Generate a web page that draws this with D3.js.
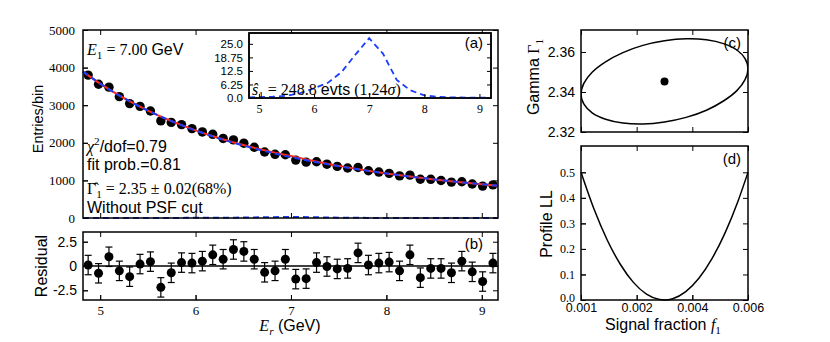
<!DOCTYPE html>
<html><head><meta charset="utf-8">
<script src="https://cdn.jsdelivr.net/npm/d3@7/dist/d3.min.js"></script>
<style>body{margin:0;background:#fff}svg{display:block}text{white-space:pre}</style>
</head><body>
<svg id="c" width="830" height="342"></svg>
<script>
// ---------------- data ----------------
const binCenters = [4.874,4.983,5.092,5.201,5.309,5.418,5.527,5.636,5.745,5.853,5.962,6.071,6.180,6.289,6.397,6.506,6.615,6.724,6.833,6.941,7.050,7.159,7.268,7.377,7.485,7.594,7.703,7.812,7.921,8.029,8.138,8.247,8.356,8.465,8.573,8.682,8.791,8.900,9.009,9.117];
const entries = [3800,3557,3480,3228,3042,2970,2847,2583,2542,2484,2378,2289,2226,2116,2078,1990,1881,1754,1694,1681,1540,1486,1497,1431,1373,1329,1343,1256,1222,1188,1120,1140,1030,1029,998,955,964,904,848,880];
const residuals = [0.1,-0.75,0.95,-0.5,-1.1,0.2,0.45,-2.2,-0.7,0.35,0.3,0.5,1.15,0.7,1.7,1.5,0.7,-0.65,-0.5,0.7,-1.35,-1.3,0.35,-0.05,-0.3,-0.25,1.35,0.1,0.3,0.4,-0.5,1.15,-1.2,-0.25,-0.25,-0.7,0.5,-0.6,-1.6,0.3];
const residualErr = 1.0;
const modelE = [4.82,5.0,5.25,5.5,5.75,6.0,6.25,6.5,6.75,7.0,7.25,7.5,7.75,8.0,8.25,8.5,8.75,9.0,9.17];
const fitModel = [3895,3573,3187,2857,2575,2332,2122,1941,1785,1648,1512,1386,1280,1185,1101,1027,959,898,859];
const bkgModel = [3895,3573,3186,2856,2573,2328,2115,1929,1765,1620,1492,1378,1276,1184,1101,1027,959,898,859];
const sigModel = [0.3,0.4,0.6,1.0,2.3,4.5,7.0,12.0,20.0,27.6,20.5,8.3,3.5,1.2,0.5,0.3,0.2,0.2,0.2];
const energyTicks = [5,6,7,8,9];
const entriesTicks = [0,1000,2000,3000,4000,5000];
const residTicks = [-2.5,0,2.5];
const residTickLabels = ["-2.5","0","2.5"];
const insetTicks = [0,6.25,12.5,18.75,25];
const insetTickLabels = ["0.0","6.25","12.5","18.75","25.0"];
// contour (c) and profile (d)
const contourF = [0.00570,0.00561,0.00536,0.00495,0.00443,0.00381,0.00315,0.00249,0.00188,0.00135,0.00094,0.00069,0.00060,0.00069,0.00094,0.00135,0.00188,0.00249,0.00315,0.00381,0.00443,0.00495,0.00536,0.00561];
const contourG = [2.3517,2.3567,2.3610,2.3642,2.3661,2.3666,2.3656,2.3633,2.3597,2.3551,2.3499,2.3444,2.3389,2.3339,2.3296,2.3264,2.3245,2.3240,2.3250,2.3273,2.3309,2.3355,2.3407,2.3462];
const bestF = 0.00315, bestG = 2.3453;
const profF = [0.0006,0.0010,0.0014,0.0018,0.0022,0.0026,0.0030,0.00315,0.0034,0.0038,0.0042,0.0046,0.0050,0.0054,0.0057];
const profLL = [0.5,0.355,0.235,0.140,0.069,0.023,0.0017,0,0.0048,0.0325,0.085,0.162,0.263,0.389,0.5];
const fracTicks = [0.0006,0.0023,0.0040,0.0057];
const fracTickLabels = ["0.001","0.002","0.004","0.006"];
const gammaTicks = [2.32,2.34,2.36];
const llTicks = [0,0.1,0.2,0.3,0.4,0.5];

// ---------------- setup ----------------
const SANS = "'Liberation Sans', Arial, Helvetica, sans-serif";
const SERIF = "'Liberation Serif', 'Times New Roman', serif";
const RED = "#ff2a1a", BLUE = "#1a3cff";
const svg = d3.select("#c");

const A = {x0:83,x1:498,y0:30,y1:218};
const B = {x0:83,x1:498,y0:232,y1:300};
const I = {x0:249,x1:491,y0:33,y1:98};
const C = {x0:581,x1:748,y0:30,y1:132};
const D = {x0:581,x1:748,y0:146,y1:300};

const xA = d3.scaleLinear([4.82,9.17],[A.x0,A.x1]);
const yA = d3.scaleLinear([0,5000],[A.y1,A.y0]);
const yB = d3.scaleLinear([-3.5,3.5],[B.y1,B.y0]);
const xI = d3.scaleLinear([4.82,9.21],[I.x0,I.x1]);
const yI = d3.scaleLinear([0,30],[I.y1,I.y0]);
const xC = d3.scaleLinear([0.0006,0.0057],[C.x0,C.x1]);
const yC = d3.scaleLinear([2.32,2.371],[C.y1,C.y0]);
const yD = d3.scaleLinear([0,0.603],[D.y1,D.y0]);

function axisG(axis, tx, ty, font, size){
  const g = svg.append("g").attr("transform",`translate(${tx},${ty})`).call(axis);
  g.select(".domain").remove();
  g.selectAll(".tick line").attr("stroke","#000").attr("stroke-width",1);
  g.selectAll(".tick text").attr("font-family",font).attr("font-size",size).attr("fill","#000");
  return g;
}
function ticks4(p, xs, ys, xv, yv){
  axisG(d3.axisBottom(xs).tickValues(xv).tickFormat("").tickSizeInner(-5).tickSizeOuter(0),0,p.y1,SANS,10);
  axisG(d3.axisTop(xs).tickValues(xv).tickFormat("").tickSizeInner(-5).tickSizeOuter(0),0,p.y0,SANS,10);
  axisG(d3.axisLeft(ys).tickValues(yv).tickFormat("").tickSizeInner(-5).tickSizeOuter(0),p.x0,0,SANS,10);
  axisG(d3.axisRight(ys).tickValues(yv).tickFormat("").tickSizeInner(-5).tickSizeOuter(0),p.x1,0,SANS,10);
}
function frame(p, fill){
  svg.append("rect").attr("x",p.x0).attr("y",p.y0).attr("width",p.x1-p.x0).attr("height",p.y1-p.y0)
    .attr("fill",fill||"none").attr("stroke","#000").attr("stroke-width",1.5);
}
function rich(x, y, parts, opt={}){
  const size = opt.size||16;
  const t = svg.append("text").attr("x",x).attr("y",y).attr("text-anchor",opt.anchor||"start")
    .attr("font-size",size).attr("fill","#000");
  if(opt.rotate) t.attr("transform",`rotate(${opt.rotate},${x},${y})`);
  let cur = 0;
  parts.forEach(p=>{
    const shift = p.sub ? size*0.28 : p.sup ? -size*0.42 : 0;
    const ts = t.append("tspan").text(p.t).attr("font-family",p.serif?SERIF:SANS)
      .attr("font-size",(p.sub||p.sup)?size*0.7:size);
    if(p.italic) ts.attr("font-style","italic");
    if(shift!==cur){ ts.attr("dy",shift-cur); cur = shift; }
  });
  return t;
}

// ---------------- panel (a) ----------------
svg.append("g").selectAll("circle").data(binCenters).join("circle")
  .attr("cx",(d)=>xA(d)).attr("cy",(d,i)=>yA(entries[i])).attr("r",4.7).attr("fill","#000");
const lineA = d3.line().x((d,i)=>xA(modelE[i])).curve(d3.curveMonotoneX);
svg.append("path").attr("d",lineA.y(d=>yA(d))(fitModel)).attr("fill","none").attr("stroke",RED).attr("stroke-width",2);
svg.append("path").attr("d",lineA.y(d=>yA(d))(bkgModel)).attr("fill","none").attr("stroke",BLUE).attr("stroke-width",2).attr("stroke-dasharray","6,4");
svg.append("path").attr("d",lineA.y(d=>yA(d))(sigModel)).attr("fill","none").attr("stroke",BLUE).attr("stroke-width",2).attr("stroke-dasharray","6,4");

ticks4(A, xA, yA, energyTicks, entriesTicks);
axisG(d3.axisLeft(yA).tickValues(entriesTicks).tickFormat(d3.format("d")).tickSizeInner(-5).tickSizeOuter(0).tickPadding(8),A.x0,0,SERIF,13);
frame(A);

// inset
frame(I, "#fff");
svg.append("path").attr("d",d3.line().x((d,i)=>xI(modelE[i])).y(d=>yI(d))(sigModel))
  .attr("fill","none").attr("stroke",BLUE).attr("stroke-width",1.8).attr("stroke-dasharray","6,4");
axisG(d3.axisLeft(yI).tickValues(insetTicks).tickFormat((d,i)=>insetTickLabels[i]).tickSizeInner(-4).tickSizeOuter(0).tickPadding(6),I.x0,0,SANS,11.5);
axisG(d3.axisRight(yI).tickValues(insetTicks).tickFormat("").tickSizeInner(-4).tickSizeOuter(0),I.x1,0,SANS,10);
axisG(d3.axisBottom(xI).tickValues(energyTicks).tickFormat(d3.format("d")).tickSizeInner(-4).tickSizeOuter(0).tickPadding(6),0,I.y1,SERIF,12);
frame(I);
rich(252, 95, [{t:"s\u0302",serif:1,italic:1},{t:"1",serif:1,sub:1},{t:" = 248.8 ",serif:1},{t:"evts"},{t:" (1.24",serif:1},{t:"σ",serif:1,italic:1},{t:")",serif:1}],{size:16});
rich(483, 48, [{t:"(a)"}],{size:15,anchor:"end"});

rich(87, 55, [{t:"E",serif:1,italic:1},{t:"1",serif:1,sub:1},{t:" = 7.00 ",serif:1},{t:"GeV"}],{size:16});
rich(87, 152, [{t:"χ",serif:1,italic:1},{t:"2",serif:1,sup:1},{t:"/dof=0.79"}],{size:16});
rich(87, 170, [{t:"fit prob.=0.81"}],{size:16});
rich(87, 194, [{t:"Γ\u0302",serif:1},{t:"1",serif:1,sub:1},{t:" = 2.35 ± 0.02(68%)",serif:1}],{size:16});
rich(87, 213, [{t:"Without PSF cut"}],{size:16});

rich(43, 119, [{t:"Entries/bin"}],{size:14.5,anchor:"middle",rotate:-90});

// ---------------- panel (b) ----------------
svg.append("line").attr("x1",B.x0).attr("x2",B.x1).attr("y1",yB(0)).attr("y2",yB(0)).attr("stroke","#000").attr("stroke-width",1.5);
const eb = svg.append("g").attr("stroke","#000").attr("stroke-width",1.2);
binCenters.forEach((e,i)=>{
  const x = xA(e), lo = yB(residuals[i]-residualErr), hi = yB(residuals[i]+residualErr);
  eb.append("line").attr("x1",x).attr("x2",x).attr("y1",lo).attr("y2",hi);
  eb.append("line").attr("x1",x-3.5).attr("x2",x+3.5).attr("y1",lo).attr("y2",lo);
  eb.append("line").attr("x1",x-3.5).attr("x2",x+3.5).attr("y1",hi).attr("y2",hi);
});
svg.append("g").selectAll("circle").data(binCenters).join("circle")
  .attr("cx",d=>xA(d)).attr("cy",(d,i)=>yB(residuals[i])).attr("r",4.5).attr("fill","#000");
ticks4(B, xA, yB, energyTicks, residTicks);
axisG(d3.axisLeft(yB).tickValues(residTicks).tickFormat((d,i)=>residTickLabels[i]).tickSizeInner(-5).tickSizeOuter(0).tickPadding(6),B.x0,0,SANS,14);
axisG(d3.axisBottom(xA).tickValues(energyTicks).tickFormat(d3.format("d")).tickSizeInner(-5).tickSizeOuter(0).tickPadding(5.5),0,B.y1,SERIF,13);
frame(B);
rich(483, 249, [{t:"(b)"}],{size:15,anchor:"end"});
rich(46.5, 266, [{t:"Residual"}],{size:16,anchor:"middle",rotate:-90});
rich(290, 331, [{t:"E",serif:1,italic:1},{t:"r",serif:1,italic:1,sub:1},{t:" (GeV)"}],{size:16,anchor:"middle"});

// ---------------- panel (c) ----------------
svg.append("clipPath").attr("id","clipC").append("rect").attr("x",C.x0).attr("y",C.y0).attr("width",C.x1-C.x0).attr("height",C.y1-C.y0);
svg.append("path").attr("clip-path","url(#clipC)")
  .attr("d",d3.line().x((d,i)=>xC(contourF[i])).y(d=>yC(d)).curve(d3.curveCatmullRomClosed.alpha(0.5))(contourG))
  .attr("fill","none").attr("stroke","#000").attr("stroke-width",1.5);
svg.append("circle").attr("cx",xC(bestF)).attr("cy",yC(bestG)).attr("r",4).attr("fill","#000");
ticks4(C, xC, yC, fracTicks, gammaTicks);
axisG(d3.axisLeft(yC).tickValues(gammaTicks).tickFormat(d3.format(".2f")).tickSizeInner(-5).tickSizeOuter(0).tickPadding(6),C.x0,0,SANS,14);
frame(C);
rich(741, 48, [{t:"(c)"}],{size:15,anchor:"end"});
rich(539, 77, [{t:"Gamma "},{t:"Γ",serif:1},{t:"1",serif:1,sub:1}],{size:16,anchor:"middle",rotate:-90});

// ---------------- panel (d) ----------------
svg.append("path").attr("d",d3.line().x((d,i)=>xC(profF[i])).y(d=>yD(d)).curve(d3.curveMonotoneX)(profLL))
  .attr("fill","none").attr("stroke","#000").attr("stroke-width",1.5);
ticks4(D, xC, yD, fracTicks, llTicks);
const dLeft = axisG(d3.axisLeft(yD).tickValues(llTicks).tickFormat(d3.format(".1f")).tickSizeInner(-5).tickSizeOuter(0).tickPadding(6),D.x0,0,SERIF,12);
dLeft.selectAll(".tick text").filter(d=>d===0).attr("dy","0.15em");
axisG(d3.axisBottom(xC).tickValues(fracTicks).tickFormat((d,i)=>fracTickLabels[i]).tickSizeInner(-5).tickSizeOuter(0).tickPadding(3.5),0,D.y1,SANS,12.5);
frame(D);
rich(741, 164, [{t:"(d)"}],{size:15,anchor:"end"});
rich(552, 224, [{t:"Profile LL"}],{size:16,anchor:"middle",rotate:-90});
rich(663, 329.5, [{t:"Signal fraction "},{t:"f",serif:1,italic:1},{t:"1",serif:1,sub:1}],{size:16,anchor:"middle"});
</script>
</body></html>
